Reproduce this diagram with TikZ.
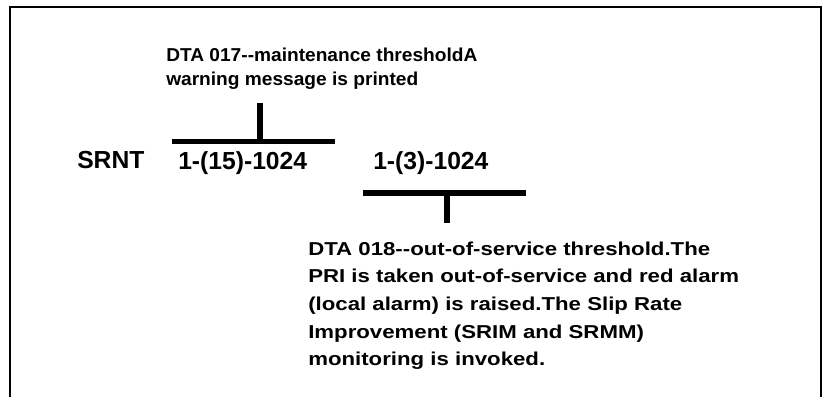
\documentclass[tikz,border=0pt]{standalone}
\usepackage{fontspec}
\setmainfont{Liberation Sans}
\newfontfamily\warnfont{Liberation Sans}[FakeStretch=1.025]
\newfontfamily\oosfont{Liberation Sans}[FakeStretch=1.19]
\usetikzlibrary{positioning}
\newcommand{\dd}{-\kern0pt-}
\tikzstyle{note}=[inner sep=0, anchor=north west, align=left]
\tikzstyle{label}=[inner sep=0, anchor=base west, font=\fontsize{18.5pt}{22pt}\selectfont\bfseries]
\tikzstyle{bar}=[line width=4.1pt]
\tikzstyle{stub}=[line width=4.5pt]
\tikzstyle{frame}=[line width=2.1pt]

\begin{document}
\begin{tikzpicture}[x=0.75pt, y=-0.75pt]
            \useasboundingbox (0,0) rectangle (825,397);
            \draw[frame] (10,397) |- (821,7) -- (821,397);

            \node[note, font=\fontsize{14pt}{17.6pt}\warnfont\bfseries] (warn) at (166,48) {DTA 017\dd maintenance thresholdA\\warning message is printed};
            \node[label] (srnt) at (77,168) {SRNT};
            \node[label] (pri15) at (178,169) {1-(15)-1024};
            \node[label] (pri3) at (373,169) {1-(3)-1024};
            \node[note, font=\fontsize{14pt}{20.7pt}\oosfont\bfseries] (oos) at (308,241.5) {DTA 018\dd out-of-service threshold.The\\PRI is taken out-of-service and red alarm\\(local alarm) is raised.The Slip Rate\\Improvement (SRIM and SRMM)\\monitoring is invoked.};

            \coordinate (bar1w) at (172,141.5);
            \coordinate (bar1e) at (335,141.5);
            \coordinate (bar1m) at (260,141.5);
            \coordinate (tip1) at (260,103);
            \coordinate (bar2w) at (363,193);
            \coordinate (bar2e) at (526,193);
            \coordinate (bar2m) at (447,193);
            \coordinate (tip2) at (447,223);

            \draw[bar] (bar1w) -- (bar1e);
            \draw[stub] (tip1) -- (bar1m);
            \draw[bar] (bar2w) -- (bar2e);
            \draw[stub] (bar2m) -- (tip2);
\end{tikzpicture}
\end{document}
